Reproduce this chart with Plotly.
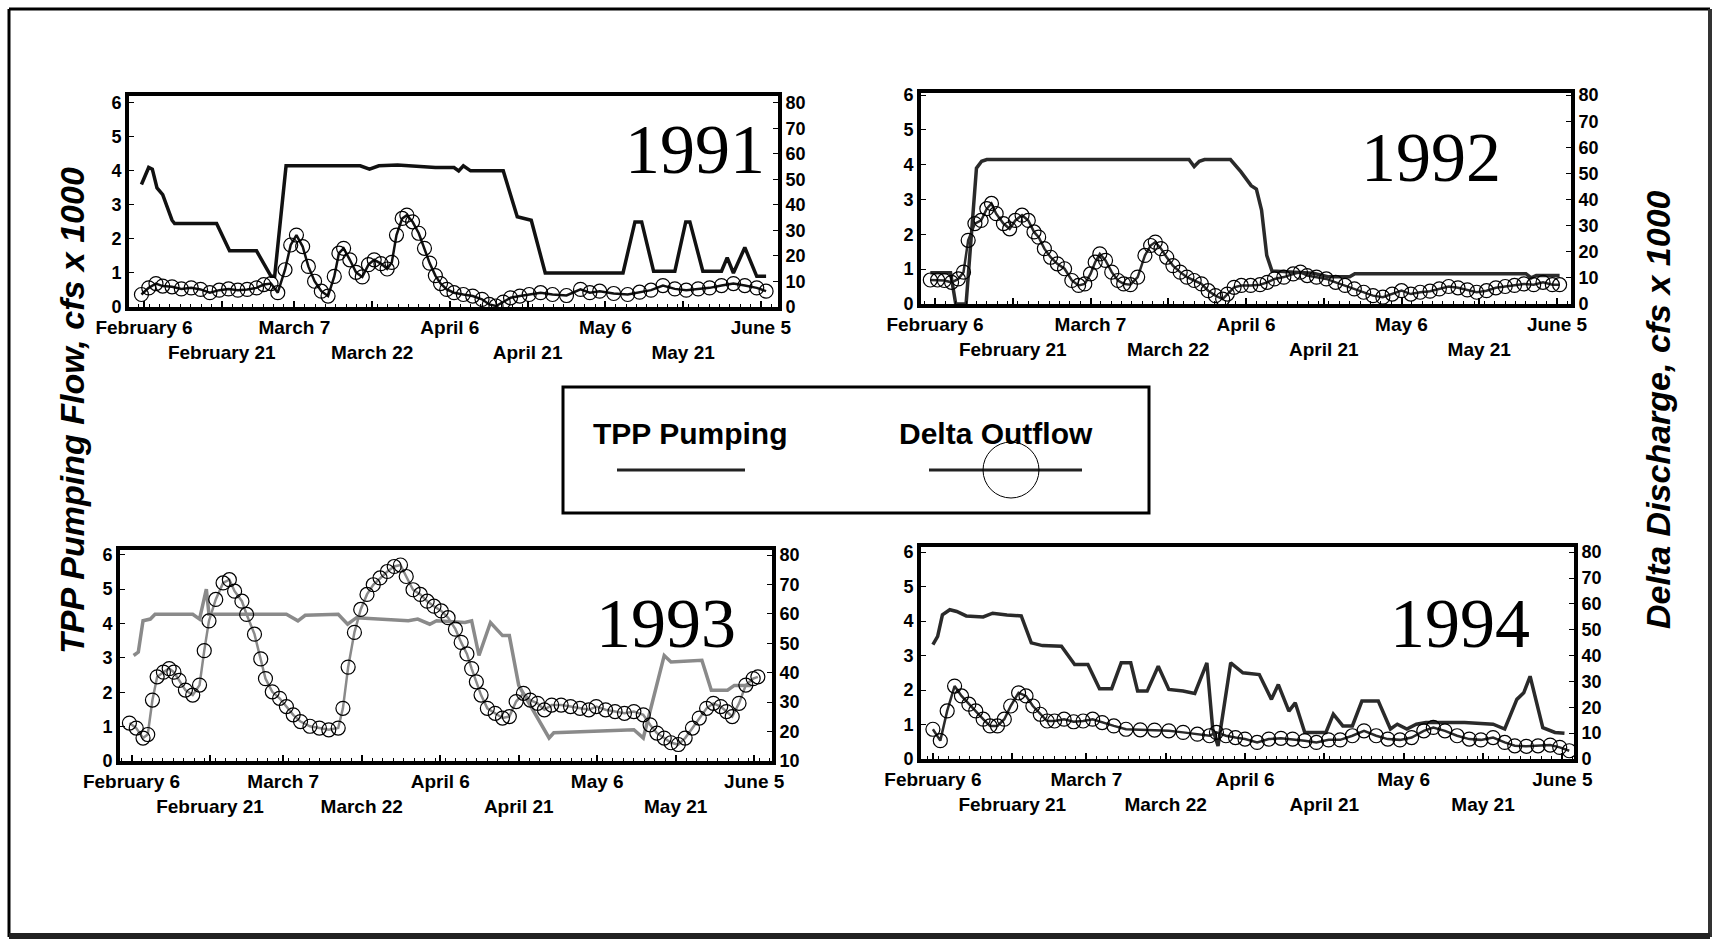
import pandas as pd
import plotly.graph_objects as go

W, H = 1713, 941

# x values are days after February 6 of each year, y values in cfs x 1000
tpp91_day = [-0.5, 0.9, 1.6, 2.5, 3.6, 5.4, 5.9, 14.0, 16.5, 21.7, 24.5, 25.2, 27.4, 41.7, 43.5, 45.3, 48.9, 56.2, 59.8, 60.7,
             61.6, 63.0, 69.3, 72.0, 74.7, 77.4, 92.4, 94.7, 96.0, 98.3, 102.4, 104.5, 105.3, 107.8, 111.4, 112.5, 113.7, 115.9, 118.2, 120.0]
tpp91_val = [3.6, 4.1, 4.05, 3.5, 3.3, 2.55, 2.45, 2.45, 1.65, 1.65, 0.9, 0.9, 4.15, 4.15, 4.05, 4.15, 4.17, 4.1, 4.1, 4.0,
             4.15, 4.0, 4.0, 2.65, 2.55, 1.0, 1.0, 2.5, 2.5, 1.05, 1.05, 2.5, 2.5, 1.05, 1.05, 1.45, 1.0, 1.75, 0.9, 0.9]
delta91_day = [-0.5, 0.9, 2.3, 3.6, 5.4, 7.2, 9.1, 10.9, 12.7, 14.5, 16.3, 18.1, 19.9, 21.7, 23.1, 24.5, 25.8, 27.2, 28.3, 29.4,
               30.6, 31.7, 32.9, 34.2, 35.5, 36.7, 37.6, 38.5, 39.7, 40.9, 42.1, 43.3, 44.4, 45.7, 46.9, 47.8, 48.7, 49.8, 50.7, 51.8,
               53.0, 54.1, 55.1, 56.2, 57.2, 58.4, 59.8, 61.6, 63.4, 65.2, 66.6, 67.9, 69.3, 70.7, 72.5, 74.3, 76.5, 78.8, 81.5, 84.2,
               86.0, 87.9, 90.6, 93.3, 95.6, 97.8, 100.1, 102.4, 104.6, 106.9, 109.1, 111.4, 113.7, 115.9, 118.2, 120.0]
delta91_val = [4.9, 7.5, 9.2, 8.2, 7.9, 7.1, 7.5, 6.9, 5.6, 6.6, 7.1, 6.6, 6.9, 7.5, 8.8, 9.2, 5.6, 14.6, 24.3, 28.2,
               23.7, 15.9, 10.1, 6.2, 4.3, 12.0, 21.1, 23.0, 18.5, 13.6, 11.8, 16.6, 18.5, 17.0, 14.9, 17.5, 28.2, 34.7, 36.0, 33.4,
               28.9, 23.0, 17.2, 12.3, 9.2, 6.9, 5.6, 4.9, 4.3, 3.0, 1.0, 0.4, 1.9, 3.6, 4.3, 4.9, 5.6, 4.9, 4.5, 6.9,
               5.6, 6.2, 5.3, 4.9, 5.8, 6.6, 8.4, 7.1, 6.6, 7.1, 7.5, 8.4, 9.2, 8.4, 7.5, 6.2]

tpp92_day = [-0.9, 3.0, 4.0, 6.0, 8.0, 9.0, 10.0, 49.0, 50.0, 51.0, 52.0, 57.0, 59.0, 61.0, 62.0, 63.0, 64.0, 65.0, 73.0, 76.0,
             80.0, 81.0, 114.0, 115.0, 116.0, 120.5]
tpp92_val = [0.9, 0.9, 0.0, 0.0, 3.9, 4.1, 4.15, 4.15, 3.95, 4.1, 4.15, 4.15, 3.8, 3.4, 3.3, 2.7, 1.4, 0.95, 0.88, 0.78,
             0.78, 0.87, 0.87, 0.75, 0.82, 0.82]
delta92_day = [-0.9, 0.5, 1.8, 3.2, 4.5, 5.5, 6.4, 7.7, 8.9, 10.0, 10.9, 11.8, 13.2, 14.4, 15.5, 16.8, 18.0, 19.1, 20.0, 21.1,
               22.3, 23.6, 25.0, 26.4, 27.7, 28.9, 30.0, 30.9, 31.8, 32.9, 34.1, 35.3, 36.4, 37.7, 39.1, 40.5, 41.6, 42.5, 43.6, 44.7,
               45.9, 47.3, 48.6, 50.0, 51.4, 52.7, 54.1, 55.5, 56.4, 57.7, 59.1, 60.9, 62.7, 64.1, 65.5, 67.3, 69.1, 70.5, 71.8, 73.6,
               75.5, 77.3, 79.1, 80.9, 82.7, 84.5, 86.4, 88.2, 90.0, 91.8, 93.6, 95.5, 97.3, 99.1, 100.9, 102.7, 104.5, 106.4, 108.2, 110.0,
               111.8, 113.6, 115.5, 117.3, 119.1, 120.5]
delta92_val = [9.2, 9.2, 9.0, 8.3, 9.6, 12.2, 24.4, 30.8, 32.0, 36.5, 38.5, 34.6, 30.8, 28.8, 32.0, 34.0, 32.0, 27.6, 25.6, 21.2,
               17.9, 15.4, 13.5, 9.0, 7.1, 7.7, 11.5, 16.0, 19.2, 16.7, 12.2, 9.0, 7.7, 7.4, 10.3, 18.6, 22.4, 23.7, 21.2, 17.9,
               14.7, 12.2, 10.3, 9.0, 7.7, 5.1, 3.2, 1.9, 3.8, 6.4, 7.1, 7.1, 7.4, 8.3, 9.6, 10.3, 11.5, 12.2, 10.9, 10.3,
               9.6, 8.3, 7.1, 5.8, 4.5, 3.2, 2.6, 3.8, 5.1, 3.8, 4.5, 4.9, 5.8, 6.7, 6.2, 5.4, 4.5, 5.1, 6.2, 6.7,
               7.1, 7.7, 7.4, 8.3, 7.4, 7.4]

tpp93_day = [0.4, 1.3, 2.2, 3.6, 4.5, 11.7, 13.0, 13.9, 14.3, 14.8, 17.0, 29.6, 31.8, 33.2, 39.5, 41.3, 43.0, 47.5, 52.9, 54.7,
             57.0, 58.3, 63.7, 65.0, 66.4, 68.6, 70.9, 72.2, 74.0, 79.8, 80.7, 96.0, 97.8, 101.8, 103.1, 109.0, 110.8, 113.9, 115.2, 118.5]
tpp93_val = [3.07, 3.17, 4.08, 4.13, 4.27, 4.27, 4.13, 4.7, 5.0, 4.27, 4.27, 4.27, 4.08, 4.24, 4.27, 3.98, 4.17, 4.13, 4.08, 4.13,
             3.98, 4.08, 4.03, 4.08, 3.07, 4.03, 3.65, 3.65, 2.2, 0.67, 0.82, 0.91, 0.67, 3.07, 2.88, 2.93, 2.06, 2.06, 2.2, 2.2]
delta93_day = [-0.4, 0.9, 2.2, 3.1, 4.0, 4.9, 6.1, 7.2, 8.1, 9.1, 10.3, 11.7, 13.0, 13.9, 14.8, 16.1, 17.5, 18.7, 19.7, 21.1,
               22.0, 23.5, 24.7, 25.6, 26.9, 28.3, 29.6, 30.9, 32.3, 34.1, 35.9, 37.7, 39.5, 40.4, 41.4, 42.6, 43.8, 45.0, 46.2, 47.5,
               48.9, 50.2, 51.4, 52.5, 53.8, 55.2, 56.5, 57.8, 59.2, 60.5, 61.9, 63.0, 64.1, 65.0, 65.9, 66.8, 68.0, 69.5, 70.9, 72.2,
               73.5, 74.9, 76.2, 77.6, 78.9, 80.3, 82.1, 83.9, 85.7, 87.4, 88.8, 90.6, 92.4, 94.2, 96.0, 97.8, 99.1, 100.4, 101.8, 103.1,
               104.5, 105.8, 107.2, 108.5, 109.9, 111.2, 112.6, 113.7, 114.8, 116.1, 117.4, 118.8, 119.7]
delta93_val = [22.9, 21.2, 17.8, 19.0, 30.7, 38.6, 40.2, 41.4, 40.2, 37.4, 34.1, 32.4, 35.8, 47.5, 57.6, 64.9, 70.5, 71.6, 67.7, 64.3,
               59.8, 53.1, 44.7, 38.0, 33.5, 31.3, 28.5, 25.7, 23.4, 21.8, 21.2, 20.6, 21.2, 27.9, 41.9, 53.7, 61.5, 66.6, 69.9, 72.2,
               74.4, 76.1, 76.6, 72.7, 68.2, 66.6, 64.3, 62.6, 61.0, 58.7, 54.8, 50.3, 46.4, 41.4, 36.9, 32.4, 27.9, 26.2, 24.6, 25.1,
               30.2, 33.0, 30.7, 29.6, 27.4, 29.0, 29.0, 28.5, 27.9, 27.4, 28.5, 27.4, 26.8, 26.2, 26.8, 25.7, 22.3, 19.5, 17.8, 16.2,
               15.6, 17.8, 21.2, 24.6, 27.9, 29.6, 28.5, 26.8, 25.1, 29.6, 35.8, 38.0, 38.6]

tpp94_day = [0.0, 0.9, 1.8, 3.2, 4.5, 6.3, 9.5, 11.3, 14.0, 16.7, 18.6, 20.7, 24.3, 26.8, 29.3, 31.5, 33.8, 35.6, 37.4, 38.7,
             40.5, 42.6, 44.6, 47.3, 49.5, 51.8, 52.9, 53.9, 56.3, 58.6, 61.7, 64.0, 65.3, 67.3, 68.5, 70.3, 74.3, 75.7, 77.5, 79.3,
             81.1, 84.2, 86.5, 87.8, 89.6, 91.4, 93.2, 100.5, 105.9, 108.1, 110.4, 111.7, 112.9, 114.0, 115.3, 117.6, 119.4]
tpp94_val = [3.32, 3.56, 4.18, 4.33, 4.28, 4.15, 4.12, 4.23, 4.18, 4.15, 3.37, 3.29, 3.27, 2.74, 2.74, 2.04, 2.04, 2.79, 2.79, 1.97,
             1.97, 2.69, 2.02, 1.97, 1.90, 2.79, 0.87, 0.38, 2.79, 2.5, 2.45, 1.73, 2.16, 1.39, 1.63, 0.77, 0.77, 1.3, 0.96, 0.96,
             1.68, 1.68, 0.87, 1.01, 0.87, 1.01, 1.06, 1.06, 1.01, 0.87, 1.73, 1.92, 2.4, 1.73, 0.91, 0.77, 0.75]
delta94_day = [0.0, 1.4, 2.7, 4.1, 5.4, 6.8, 8.1, 9.5, 10.8, 12.2, 13.5, 14.7, 16.2, 17.6, 18.9, 20.3, 21.6, 23.0, 24.8, 26.6,
               28.4, 30.2, 32.0, 34.2, 36.5, 39.2, 41.9, 44.6, 47.3, 50.0, 52.3, 53.6, 55.4, 57.2, 59.0, 61.3, 63.5, 65.8, 68.0, 70.3,
               72.5, 74.8, 77.0, 79.3, 81.5, 83.8, 86.0, 88.3, 90.5, 92.8, 94.6, 96.8, 99.1, 101.4, 103.6, 105.9, 108.1, 110.0, 112.2, 114.4,
               116.7, 118.5, 120.3]
delta94_val = [11.5, 7.1, 18.6, 28.2, 24.4, 21.2, 18.6, 15.4, 12.8, 12.8, 15.4, 20.5, 25.6, 24.4, 20.5, 17.3, 14.7, 14.7, 15.4, 14.4,
               14.7, 15.4, 14.1, 12.8, 11.5, 11.3, 11.2, 10.9, 10.3, 9.6, 9.0, 10.3, 9.0, 8.3, 7.7, 6.4, 7.7, 8.0, 7.7, 7.1,
               6.4, 7.4, 7.4, 9.0, 10.9, 9.0, 7.7, 7.4, 8.3, 10.9, 12.2, 10.9, 9.0, 7.7, 7.4, 8.3, 6.4, 5.1, 4.9, 5.1,
               5.4, 4.5, 3.2]

tick_dates = ["02-06", "02-21", "03-07", "03-22", "04-06", "04-21", "05-06", "05-21", "06-05"]
tick_names = ["February 6", "February 21", "March 7", "March 22", "April 6", "April 21", "May 6", "May 21", "June 5"]

XFONT = dict(family="Liberation Sans Narrow, Arial Narrow, Liberation Sans, sans-serif", size=19, color="black", weight="bold")
YFONT = dict(family="Liberation Sans Narrow, Arial Narrow, Liberation Sans, sans-serif", size=18, color="black", weight="bold")


def to_dates(year, days):
    base = pd.Timestamp(year=year, month=2, day=6)
    return [base + pd.Timedelta(days=d) for d in days]


# year, plot box in pixels (left, top, right, bottom), left max, right range, line colour, x range in days, year label centre
panels = [
    (1991, (129, 96, 778, 307), 6.2, (0, 82.7), "#111111", (-2.9, 122.3), tpp91_day, tpp91_val, delta91_day, delta91_val, (695, 150)),
    (1992, (921, 93, 1571, 304), 6.06, (0, 80.8), "#2a2a2a", (-2.7, 122.7), tpp92_day, tpp92_val, delta92_day, delta92_val, (1431, 157)),
    (1993, (120, 550, 772, 761), 6.14, (10, 81.7), "#8a8a8a", (-2.2, 122.4), tpp93_day, tpp93_val, delta93_day, delta93_val, (666, 623)),
    (1994, (921, 547, 1574, 759), 6.15, (0, 82.0), "#2a2a2a", (-2.25, 121.2), tpp94_day, tpp94_val, delta94_day, delta94_val, (1460, 623)),
]

fig = go.Figure()
layout = {}
annotations = []

for i, (year, box, lmax, rrange, col, xr, td, tv, dd, dv, ypos) in enumerate(panels):
    n = i + 1
    xa, yl, yr = f"x{n}", f"y{2 * n - 1}", f"y{2 * n}"
    l, t, r, b = box
    fig.add_trace(go.Scatter(x=to_dates(year, td), y=tv, mode="lines", name="TPP Pumping",
                             line=dict(color=col, width=3.5), xaxis=xa, yaxis=yl, showlegend=False))
    fig.add_trace(go.Scatter(x=to_dates(year, dd), y=dv, mode="lines+markers", name="Delta Outflow",
                             line=dict(color=col, width=2.5),
                             marker=dict(symbol="circle-open", size=14, color="black", line=dict(width=1.2)),
                             xaxis=xa, yaxis=yr, showlegend=False))

    base = pd.Timestamp(year=year, month=2, day=6)
    tickvals = [pd.Timestamp(f"{year}-{d}") for d in tick_dates]
    ticktext = [s if k % 2 == 0 else "<br>" + s for k, s in enumerate(tick_names)]
    layout[f"xaxis{n}"] = dict(
        domain=[l / W, r / W], anchor=yl, type="date", automargin=False,
        range=[base + pd.Timedelta(days=xr[0]), base + pd.Timedelta(days=xr[1])],
        tickvals=tickvals, ticktext=ticktext, tickangle=0,
        showline=True, mirror=True, linewidth=4, linecolor="black",
        ticks="inside", ticklen=6, tickwidth=1.5, tickcolor="black",
        minor=dict(ticks="inside", ticklen=3, tickwidth=1, tickcolor="black", dtick=86400000 * 2),
        showgrid=False, zeroline=False, tickfont=XFONT)
    layout[f"yaxis{2 * n - 1}"] = dict(
        domain=[1 - b / H, 1 - t / H], anchor=xa, range=[0, lmax], dtick=1, tick0=0, automargin=False,
        showline=True, linewidth=4, linecolor="black", ticks="inside", ticklen=5, tickcolor="black",
        showgrid=False, zeroline=False, tickfont=YFONT)
    layout[f"yaxis{2 * n}"] = dict(
        domain=[1 - b / H, 1 - t / H], anchor=xa, overlaying=yl, side="right", automargin=False,
        range=list(rrange), dtick=10, tick0=0,
        showline=True, linewidth=4, linecolor="black", ticks="inside", ticklen=5, tickcolor="black",
        showgrid=False, zeroline=False, tickfont=YFONT)
    annotations.append(dict(text=str(year), x=ypos[0] / W, y=1 - ypos[1] / H, xref="paper", yref="paper",
                            showarrow=False, xanchor="center", yanchor="middle",
                            font=dict(family="Liberation Serif, Times New Roman, serif", size=70, color="black")))

TITLEFONT = dict(family="Liberation Sans, Arial, sans-serif", size=34, color="black", weight="bold", style="italic")
LEGFONT = dict(family="Liberation Sans, Arial, sans-serif", size=30, color="black", weight="bold")
annotations += [
    dict(text="TPP Pumping Flow, cfs x 1000", x=72 / W, y=1 - 411 / H, textangle=-90, font=TITLEFONT),
    dict(text="Delta Discharge, cfs x 1000", x=1658 / W, y=1 - 410 / H, textangle=-90, font=TITLEFONT),
    dict(text="TPP Pumping", x=690 / W, y=1 - 433 / H, font=LEGFONT),
    dict(text="Delta Outflow", x=996 / W, y=1 - 433 / H, font=LEGFONT),
]
for a in annotations[-4:]:
    a.update(xref="paper", yref="paper", showarrow=False, xanchor="center", yanchor="middle")


def px_shape(x0, y0, x1, y1, kind="rect", **kw):
    return dict(type=kind, xref="paper", yref="paper",
                x0=x0 / W, x1=x1 / W, y0=1 - y0 / H, y1=1 - y1 / H, **kw)


shapes = [
    # page frame
    px_shape(9, 9, 9, 937, "line", line=dict(color="black", width=3)),
    px_shape(9, 9, 1710, 9, "line", line=dict(color="black", width=3)),
    px_shape(1710, 9, 1710, 937, "line", line=dict(color="#333333", width=4)),
    px_shape(9, 936, 1710, 936, "line", line=dict(color="#222222", width=6)),
    # legend box
    px_shape(563, 387, 1149, 513, line=dict(color="black", width=3)),
    px_shape(617, 470, 745, 470, "line", line=dict(color="#222222", width=3)),
    px_shape(929, 470, 1082, 470, "line", line=dict(color="#222222", width=3)),
    px_shape(983, 442, 1039, 498, "circle", line=dict(color="black", width=1)),
]

fig.update_layout(**layout)
fig.update_layout(width=W, height=H, margin=dict(l=0, r=0, t=0, b=0, autoexpand=False),
                  paper_bgcolor="white", plot_bgcolor="white",
                  annotations=annotations, shapes=shapes, showlegend=False)

fig.write_html("out.html", config={"displayModeBar": False},
               post_script="document.body.style.margin = '0';")
